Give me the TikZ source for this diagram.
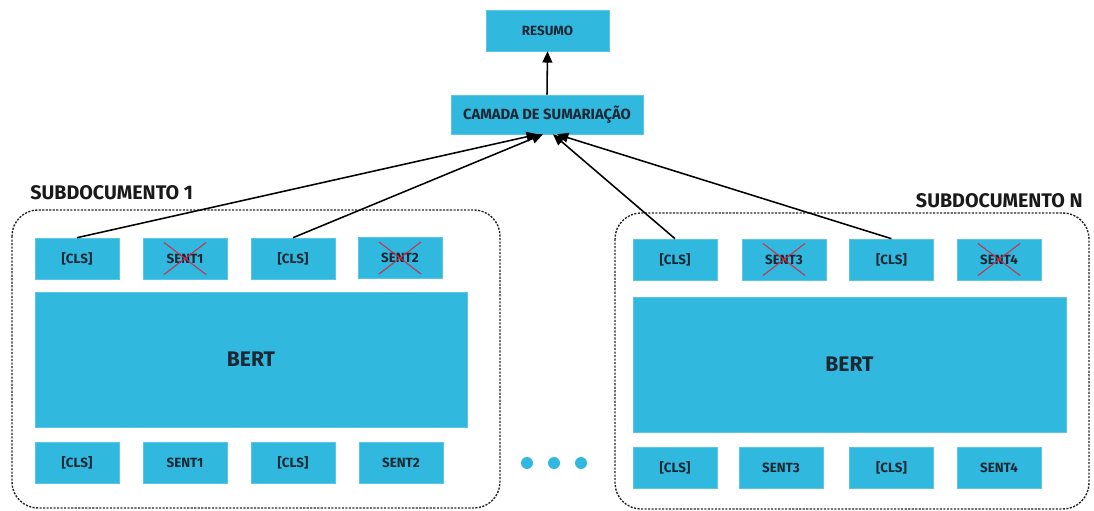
\documentclass[tikz,border=0pt]{standalone}
\usepackage{fontspec}
\setmainfont{Fira Sans}
\usepackage{tikz}
\usetikzlibrary{arrows.meta}

\definecolor{boxblue}{HTML}{30B8DE}
\definecolor{boxtext}{HTML}{1B2733}
\definecolor{crossred}{HTML}{D02A48}

\begin{document}
\begin{tikzpicture}[
  x=0.025cm, y=-0.025cm,
  box/.style={fill=boxblue, draw=boxblue!80!white, line width=0.4pt, minimum width=2.1cm, minimum height=1.025cm, inner sep=0pt, text=boxtext, font=\bfseries\fontsize{9.5}{10}\selectfont},
  bigbox/.style={box, minimum width=10.8cm, minimum height=3.375cm, font=\bfseries\fontsize{15}{17}\selectfont},
  group/.style={draw=black!85, line width=1pt, dash pattern=on 1.5pt off 1pt, rounded corners=0.65cm},
  title/.style={text=black!90, font=\bfseries\fontsize{14}{16}\selectfont, inner sep=0pt},
  arrow/.style={-{Triangle[length=8pt,width=7pt]}, line width=1.1pt},
  cross/.style={draw=crossred, line width=0.8pt, opacity=0.9}
]
\useasboundingbox (0,0) rectangle (1094,511);

% top
\node[box, minimum width=3.075cm] (resumo) at (547.5,30.5) {RESUMO};
\node[box, minimum width=4.8cm, minimum height=0.975cm, font=\bfseries\fontsize{10.5}{11}\selectfont] (camada) at (547,114.5) {CAMADA DE SUMARIAÇÃO};
\draw[arrow] (camada.north) -- (resumo.south);

% subdocument 1
\draw[group] (12,210) rectangle (500,508);
\node[title, anchor=west] (sub1) at (30,193) {SUBDOCUMENTO 1};
\node[box] (clsa) at (77,258.5) {[CLS]};
\node[box] (senta) at (185,258.5) {SENT1};
\node[box] (clsb) at (293,258.5) {[CLS]};
\node[box] (sentb) at (400,258) {SENT2};
\node[bigbox] (berta) at (251,359.5) {BERT};
\node[box] (ina) at (77,462.5) {[CLS]};
\node[box] (inb) at (185,462.5) {SENT1};
\node[box] (inc) at (293,462.5) {[CLS]};
\node[box] (ind) at (401,462.5) {SENT2};

% dots
\foreach \x in {527,554,581}
  \fill[boxblue] (\x,463) circle (6);

% subdocument N
\draw[group] (615,213) rectangle (1089,509);
\node[title, anchor=east] (subn) at (1083,201) {SUBDOCUMENTO N};
\node[box] (clsc) at (675,259.5) {[CLS]};
\node[box] (sentc) at (784,259.5) {SENT3};
\node[box] (clsd) at (891.5,259.5) {[CLS]};
\node[box] (sentd) at (999,259.5) {SENT4};
\node[bigbox, minimum width=10.825cm] (bertb) at (849.5,364.5) {BERT};
\node[box] (ine) at (675,467.5) {[CLS]};
\node[box] (inf) at (781,467.5) {SENT3};
\node[box] (ing) at (891.5,467.5) {[CLS]};
\node[box] (inh) at (999,467.5) {SENT4};

% crossed sentences
\foreach \s in {senta,sentb,sentc,sentd} {
  \draw[cross] ([shift={(-21,-16)}]\s.center) -- ([shift={(21,16)}]\s.center);
  \draw[cross] ([shift={(21,-16)}]\s.center) -- ([shift={(-21,16)}]\s.center);
}

% cls to summarization
\draw[arrow] (clsa.north) -- ([xshift=-0.23cm]camada.south);
\draw[arrow] (clsb.north) -- ([xshift=-0.1cm]camada.south);
\draw[arrow] (clsc.north) -- ([xshift=0.15cm]camada.south);
\draw[arrow] (clsd.north) -- ([xshift=0.25cm]camada.south);
\end{tikzpicture}
\end{document}
